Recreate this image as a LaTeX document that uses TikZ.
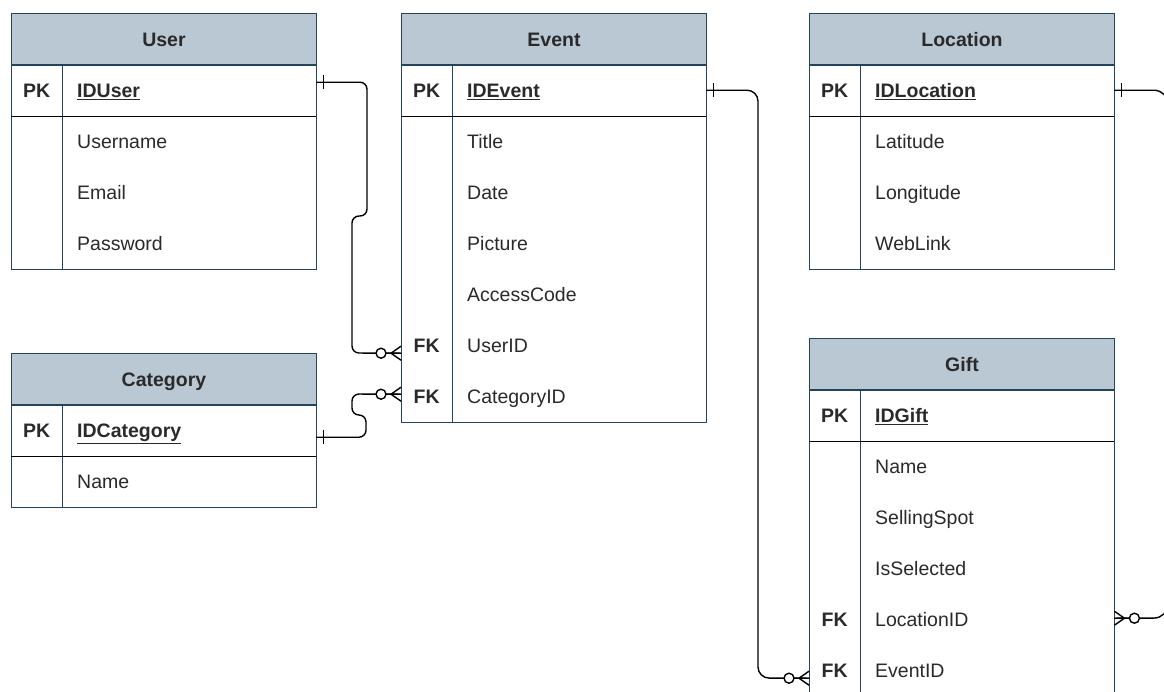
\documentclass[tikz,border=0pt]{standalone}
\usepackage{fontspec}
\setmainfont{Liberation Sans}
\usetikzlibrary{calc}
\definecolor{hdrfill}{HTML}{BAC8D3}
\definecolor{bdr}{HTML}{23445D}
\definecolor{txt}{HTML}{2A2A2A}
\newcommand{\erhead}[4]{% name, x, y, title
  \node[hdr, anchor=north west] (#1) at (#2,#3) {#4};}
\newcommand{\errow}[6]{% name, x, ytop, key, field, height
  \node[keycell, minimum height=#6pt, anchor=north west] (#1-k) at (#2,#3) {#4};
  \node[fieldcell, minimum height=#6pt, anchor=north west] (#1) at (#2+51,#3) {#5};}
\newcommand{\pkname}[1]{\textbf{\underline{#1}}}
\newcommand{\erframe}[4]{% header node, pk row, last row, x
  \draw[tabline] (#1.north west) rectangle (#3.south east);
  \draw[tabline] (#1.south west) -- (#1.south east);
  \draw[tabline] (#2-k.north east) -- (#3-k.south east);
  \draw[pkline] (#2-k.south west) -- (#2.south east);}
\begin{document}
\begin{tikzpicture}[x=1pt,y=-1pt,
  font=\fontsize{19.5}{23}\selectfont, text=txt,
  hdr/.style={draw=bdr, fill=hdrfill, line width=1pt, minimum width=305pt, minimum height=51pt, inner sep=0pt, text height=14pt, text depth=0pt, font=\fontsize{19.5}{23}\selectfont\bfseries},
  keycell/.style={minimum width=51pt, inner sep=0pt, text height=14pt, text depth=0pt, font=\fontsize{19.5}{23}\selectfont\bfseries},
  fieldcell/.style={text width=224pt, align=left, inner xsep=15pt, inner ysep=0pt, text height=14pt, text depth=0pt},
  tabline/.style={draw=bdr, line width=1pt},
  pkline/.style={draw=black, line width=1.6pt},
  conn/.style={draw=black, line width=1.4pt},
  zmany/.pic={
    \draw[conn] (0,-7) -- (10,0) -- (0,7) (0,0) -- (15,0);
    \draw[conn, fill=white] (20,0) circle (5pt);
  },
  mone/.pic={\draw[conn] (7,-7) -- (7,7);}
]
\useasboundingbox (0,0) rectangle (1164,691);
\fill[white] (0,0) rectangle (1164,691);

% ---------- User ----------
\erhead{user}{11}{13}{User}
\errow{user-pk}{11}{64}{PK}{\pkname{IDUser}}{52}
\errow{user-r1}{11}{116}{}{Username}{51}
\errow{user-r2}{11}{167}{}{Email}{51}
\errow{user-r3}{11}{218}{}{Password}{51}
\erframe{user}{user-pk}{user-r3}{11}

% ---------- Event ----------
\erhead{ev}{401}{13}{Event}
\errow{ev-pk}{401}{64}{PK}{\pkname{IDEvent}}{52}
\errow{ev-r1}{401}{116}{}{Title}{51}
\errow{ev-r2}{401}{167}{}{Date}{51}
\errow{ev-r3}{401}{218}{}{Picture}{51}
\errow{ev-r4}{401}{269}{}{AccessCode}{51}
\errow{ev-uid}{401}{320}{FK}{UserID}{51}
\errow{ev-cid}{401}{371}{FK}{CategoryID}{51}
\erframe{ev}{ev-pk}{ev-cid}{401}

% ---------- Location ----------
\erhead{loc}{809}{13}{Location}
\errow{loc-pk}{809}{64}{PK}{\pkname{IDLocation}}{52}
\errow{loc-r1}{809}{116}{}{Latitude}{51}
\errow{loc-r2}{809}{167}{}{Longitude}{51}
\errow{loc-r3}{809}{218}{}{WebLink}{51}
\erframe{loc}{loc-pk}{loc-r3}{809}

% ---------- Category ----------
\erhead{cat}{11}{353}{Category}
\errow{cat-pk}{11}{404}{PK}{\pkname{IDCategory}}{52}
\errow{cat-r1}{11}{456}{}{Name}{51}
\erframe{cat}{cat-pk}{cat-r1}{11}

% ---------- Gift ----------
\erhead{gift}{809}{338}{Gift}
\errow{gift-pk}{809}{389}{PK}{\pkname{IDGift}}{52}
\errow{gift-r1}{809}{441}{}{Name}{51}
\errow{gift-r2}{809}{492}{}{SellingSpot}{51}
\errow{gift-r3}{809}{543}{}{IsSelected}{51}
\errow{gift-lid}{809}{594}{FK}{LocationID}{51}
\errow{gift-eid}{809}{645}{FK}{EventID}{51}
\erframe{gift}{gift-pk}{gift-eid}{809}

% ---------- Connectors ----------
\coordinate (c1a) at ([yshift=8pt]user-pk.east);
\coordinate (c1b) at ([yshift=-7.5pt]ev-uid-k.west);
\draw[conn, rounded corners=7pt] (c1a) -| (367,216) -| (352,353) -- (c1b);
\pic at (c1a) {mone};
\pic[xscale=-1] at (c1b) {zmany};

\coordinate (c2a) at ([yshift=-7pt]cat-pk.east);
\coordinate (c2b) at ([yshift=2.5pt]ev-cid-k.west);
\draw[conn, rounded corners=7pt] (c2a) -| (366,415) -| (352,394) -- (c2b);
\pic at (c2a) {mone};
\pic[xscale=-1] at (c2b) {zmany};

\coordinate (c3a) at (ev-pk.east);
\coordinate (c3b) at ([yshift=-7.5pt]gift-eid-k.west);
\draw[conn, rounded corners=11pt] (c3a) -| (758,678) -- (c3b);
\pic at (c3a) {mone};
\pic[xscale=-1] at (c3b) {zmany};

\coordinate (c4a) at (loc-pk.east);
\coordinate (c4b) at ([yshift=1.5pt]gift-lid.east);
\draw[conn, rounded corners=14pt] (c4a) -| (1168,618) -- (c4b);
\pic at (c4a) {mone};
\pic at (c4b) {zmany};
\end{tikzpicture}
\end{document}
